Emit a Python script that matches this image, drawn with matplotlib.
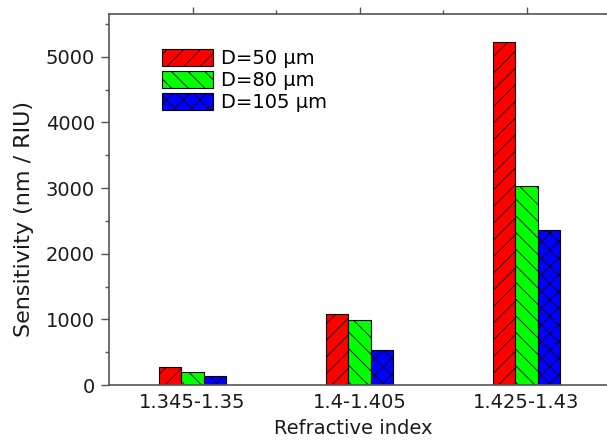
import numpy as np
import matplotlib
matplotlib.use("Agg")
import matplotlib.pyplot as plt
from matplotlib.ticker import MultipleLocator, FixedLocator

plt.rcParams['font.family'] = ['DejaVu Sans']
plt.rcParams['hatch.linewidth'] = 0.6

# data
categories = ["1.345-1.35", "1.4-1.405", "1.425-1.43"]
series_labels = ["D=50 \u03bcm", "D=80 \u03bcm", "D=105 \u03bcm"]
d50 = [280, 1080, 5230]
d80 = [192, 988, 3025]
d105 = [142, 533, 2362]

colors = ["#ff0000", "#00ff00", "#0000ff"]
hatches = ["//", "\\\\", "xx"]
txt = "#1a1a1a"

fig = plt.figure(figsize=(6.07, 4.40), dpi=100)
ax = fig.add_axes([109 / 607, 55 / 440, 501 / 607, 371 / 440])

x = np.arange(len(categories))
w = 0.135
for i, (vals, lab) in enumerate(zip([d50, d80, d105], series_labels)):
    ax.bar(x + (i - 1) * w, vals, w, color=colors[i], edgecolor="black",
           hatch=hatches[i], linewidth=0.8, label=lab)

ax.set_xlim(-0.5, 2.5)
ax.set_ylim(0, 5650)

spine_col = "#555555"
for s in ["left", "bottom", "top"]:
    ax.spines[s].set_color(spine_col)
    ax.spines[s].set_linewidth(1.2)
ax.spines["right"].set_visible(False)

ax.yaxis.set_major_locator(MultipleLocator(1000))
ax.yaxis.set_minor_locator(MultipleLocator(500))
ax.tick_params(axis="y", which="major", direction="out", length=6, width=1,
               color=spine_col, labelsize=14, labelcolor=txt, pad=4)
ax.tick_params(axis="y", which="minor", direction="out", length=3, width=1,
               color=spine_col)

ax.set_xticks(x)
ax.set_xticklabels(categories)
ax.xaxis.set_minor_locator(FixedLocator([0.5, 1.5]))
ax.tick_params(axis="x", which="both", bottom=False, top=True, direction="out",
               color=spine_col, width=1, labelsize=14, labelcolor=txt, pad=1)
ax.tick_params(axis="x", which="major", length=5)
ax.tick_params(axis="x", which="minor", length=3)

fig.text(24 / 607, 1 - 219 / 440, "Sensitivity (nm / RIU)", fontsize=16,
         color=txt, rotation=90, ha="center", va="center")
fig.text(353 / 607, 1 - 428 / 440, "Refractive index", fontsize=14,
         color=txt, ha="center", va="center")

ax.legend(loc="upper left", bbox_to_anchor=(0.105, 0.907), frameon=False,
          fontsize=14, handlelength=2.63, handleheight=1.03, labelspacing=0.13,
          handletextpad=0.4, borderpad=0, borderaxespad=0)

fig.savefig("out.png", dpi=100)
